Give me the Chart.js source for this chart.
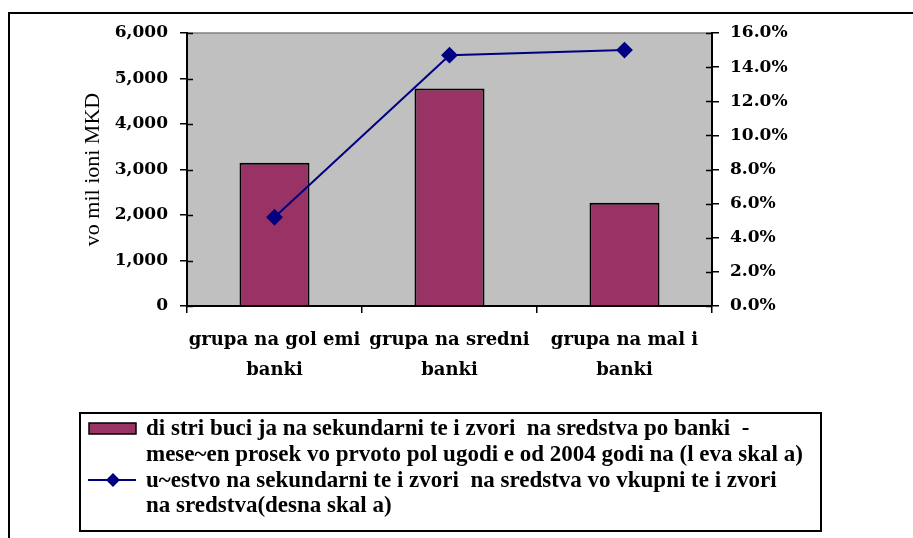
<!DOCTYPE html>
<html lang="mk">
<head>
<meta charset="UTF-8">
<title>Sekundarni izvori na sredstva po grupi banki</title>
<script src="https://cdn.jsdelivr.net/npm/chart.js"></script>
<style>
  html, body { margin: 0; padding: 0; background: #fff; }
  #wrap { width: 913px; height: 538px; }
</style>
</head>
<body>
<div id="wrap"><canvas id="bankChart" width="913" height="538"></canvas></div>
<script>
// podatoci (procena od slikata)
const grupi = [['grupa na gol emi', 'banki'], ['grupa na sredni', 'banki'], ['grupa na mal i', 'banki']];
const distribucija = [3150, 4780, 2270];     // vo milioni MKD (leva skala)
const ucestvo = [5.2, 14.7, 15.0];           // vo % (desna skala)
const levaTicks = [0, 6000, 1000];           // min, max, cekor
const desnaTicks = [0, 16, 2];
const legendaBarovi = ['di stri buci ja na sekundarni te i zvori  na sredstva po banki  -',
                       'mese~en prosek vo prvoto pol ugodi e od 2004 godi na (l eva skal a)'];
const legendaLinija = ['u~estvo na sekundarni te i zvori  na sredstva vo vkupni te i zvori',
                       'na sredstva(desna skal a)'];

const BAR_COLOR = '#993366';
const LINE_COLOR = '#000080';
const tickFont = { family: '"DejaVu Serif"', size: 17, weight: 'bold' };

// siva pozadina na grafikot + ramka
const pozadina = {
  id: 'pozadina',
  beforeDraw(chart) {
    const ctx = chart.ctx;
    const a = chart.chartArea;
    ctx.save();
    ctx.fillStyle = '#fff';
    ctx.fillRect(0, 0, chart.width, chart.height);
    ctx.strokeStyle = '#000';
    ctx.lineWidth = 2;
    ctx.strokeRect(9, 13, 1000, 1000);
    ctx.fillStyle = '#c0c0c0';
    ctx.fillRect(a.left, a.top, a.right - a.left, a.bottom - a.top);
    ctx.strokeStyle = '#808080';
    ctx.lineWidth = 1.5;
    ctx.beginPath();
    ctx.moveTo(a.left, a.top);
    ctx.lineTo(a.right, a.top);
    ctx.stroke();
    ctx.restore();
  },
  // crticite na y oskite da ja presekuvaat oskata (kako vo Excel)
  afterDatasetsDraw(chart) {
    const ctx = chart.ctx;
    ctx.save();
    ctx.strokeStyle = '#000';
    ctx.lineWidth = 1.5;
    ['y', 'y1'].forEach(id => {
      const s = chart.scales[id];
      const x = id === 'y' ? chart.chartArea.left : chart.chartArea.right;
      const dir = id === 'y' ? 1 : -1;
      s.ticks.forEach(t => {
        const py = Math.round(s.getPixelForValue(t.value)) + 0.5;
        ctx.beginPath();
        ctx.moveTo(x, py);
        ctx.lineTo(x + dir * 6, py);
        ctx.stroke();
      });
    });
    ctx.restore();
  }
};

// legenda vo ramka pod grafikot
const legenda = {
  id: 'legenda',
  afterDraw(chart) {
    const ctx = chart.ctx;
    const bx = 80, by = 413, bw = 741, bh = 118;
    ctx.save();
    ctx.fillStyle = '#fff';
    ctx.fillRect(bx, by, bw, bh);
    ctx.strokeStyle = '#000';
    ctx.lineWidth = 2;
    ctx.strokeRect(bx, by, bw, bh);

    // simbol za barovite
    ctx.fillStyle = BAR_COLOR;
    ctx.fillRect(89, 423, 47, 11);
    ctx.lineWidth = 1.5;
    ctx.strokeRect(89, 423, 47, 11);

    // simbol za linijata
    ctx.strokeStyle = LINE_COLOR;
    ctx.lineWidth = 2;
    ctx.beginPath();
    ctx.moveTo(88, 480);
    ctx.lineTo(136, 480);
    ctx.stroke();
    ctx.fillStyle = LINE_COLOR;
    ctx.beginPath();
    ctx.moveTo(113, 473); ctx.lineTo(120, 480); ctx.lineTo(113, 487); ctx.lineTo(106, 480);
    ctx.closePath();
    ctx.fill();

    ctx.fillStyle = '#000';
    ctx.font = 'bold 23px "Liberation Serif"';
    ctx.textBaseline = 'middle';
    ctx.textAlign = 'left';
    const lines = legendaBarovi.concat(legendaLinija);
    const ys = [429, 455, 481, 506];
    lines.forEach((t, i) => ctx.fillText(t, 146, ys[i]));
    ctx.restore();
  }
};

new Chart(document.getElementById('bankChart'), {
  data: {
    labels: grupi,
    datasets: [
      {
        type: 'line',
        label: legendaLinija.join(' '),
        data: ucestvo,
        yAxisID: 'y1',
        borderColor: LINE_COLOR,
        backgroundColor: LINE_COLOR,
        borderWidth: 2,
        pointStyle: 'rectRot',
        pointRadius: 7,
        pointHoverRadius: 7,
        tension: 0,
        order: 0
      },
      {
        type: 'bar',
        label: legendaBarovi.join(' '),
        data: distribucija,
        yAxisID: 'y',
        backgroundColor: BAR_COLOR,
        borderColor: '#000',
        borderWidth: 2,
        barPercentage: 0.8,
        categoryPercentage: 0.5,
        order: 1
      }
    ]
  },
  options: {
    responsive: false,
    animation: false,
    layout: { padding: { left: 0, right: 0, top: 33, bottom: 0 } },
    plugins: {
      legend: { display: false },
      tooltip: { enabled: false }
    },
    scales: {
      x: {
        type: 'category',
        offset: true,
        afterFit(s) { s.height = 232; },
        grid: { offset: true, drawOnChartArea: false, tickLength: 7, color: '#000', lineWidth: 1.5 },
        border: { color: '#000', width: 2 },
        ticks: { color: '#000', font: Object.assign({}, tickFont, { size: 18, lineHeight: '30px' }), padding: 12, maxRotation: 0, autoSkip: false }
      },
      y: {
        position: 'left',
        min: levaTicks[0],
        max: levaTicks[1],
        afterFit(s) { s.width = 187; },
        grid: { drawOnChartArea: false, tickLength: 7, color: '#000', lineWidth: 1.5 },
        border: { color: '#000', width: 2 },
        ticks: {
          stepSize: levaTicks[2],
          color: '#000',
          font: tickFont,
          padding: 12,
          callback: v => v.toLocaleString('en-US')
        },
        title: {
          display: true,
          text: 'vo mil ioni MKD',
          color: '#000',
          font: { family: '"Liberation Serif"', size: 22 },
          padding: { top: 80, bottom: 0 }
        }
      },
      y1: {
        position: 'right',
        min: desnaTicks[0],
        max: desnaTicks[1],
        afterFit(s) { s.width = 201; },
        grid: { drawOnChartArea: false, tickLength: 7, color: '#000', lineWidth: 1.5 },
        border: { color: '#000', width: 2 },
        ticks: {
          stepSize: desnaTicks[2],
          color: '#000',
          font: tickFont,
          padding: 11,
          callback: v => v.toFixed(1) + '%'
        }
      }
    }
  },
  plugins: [pozadina, legenda]
});
</script>
</body>
</html>
